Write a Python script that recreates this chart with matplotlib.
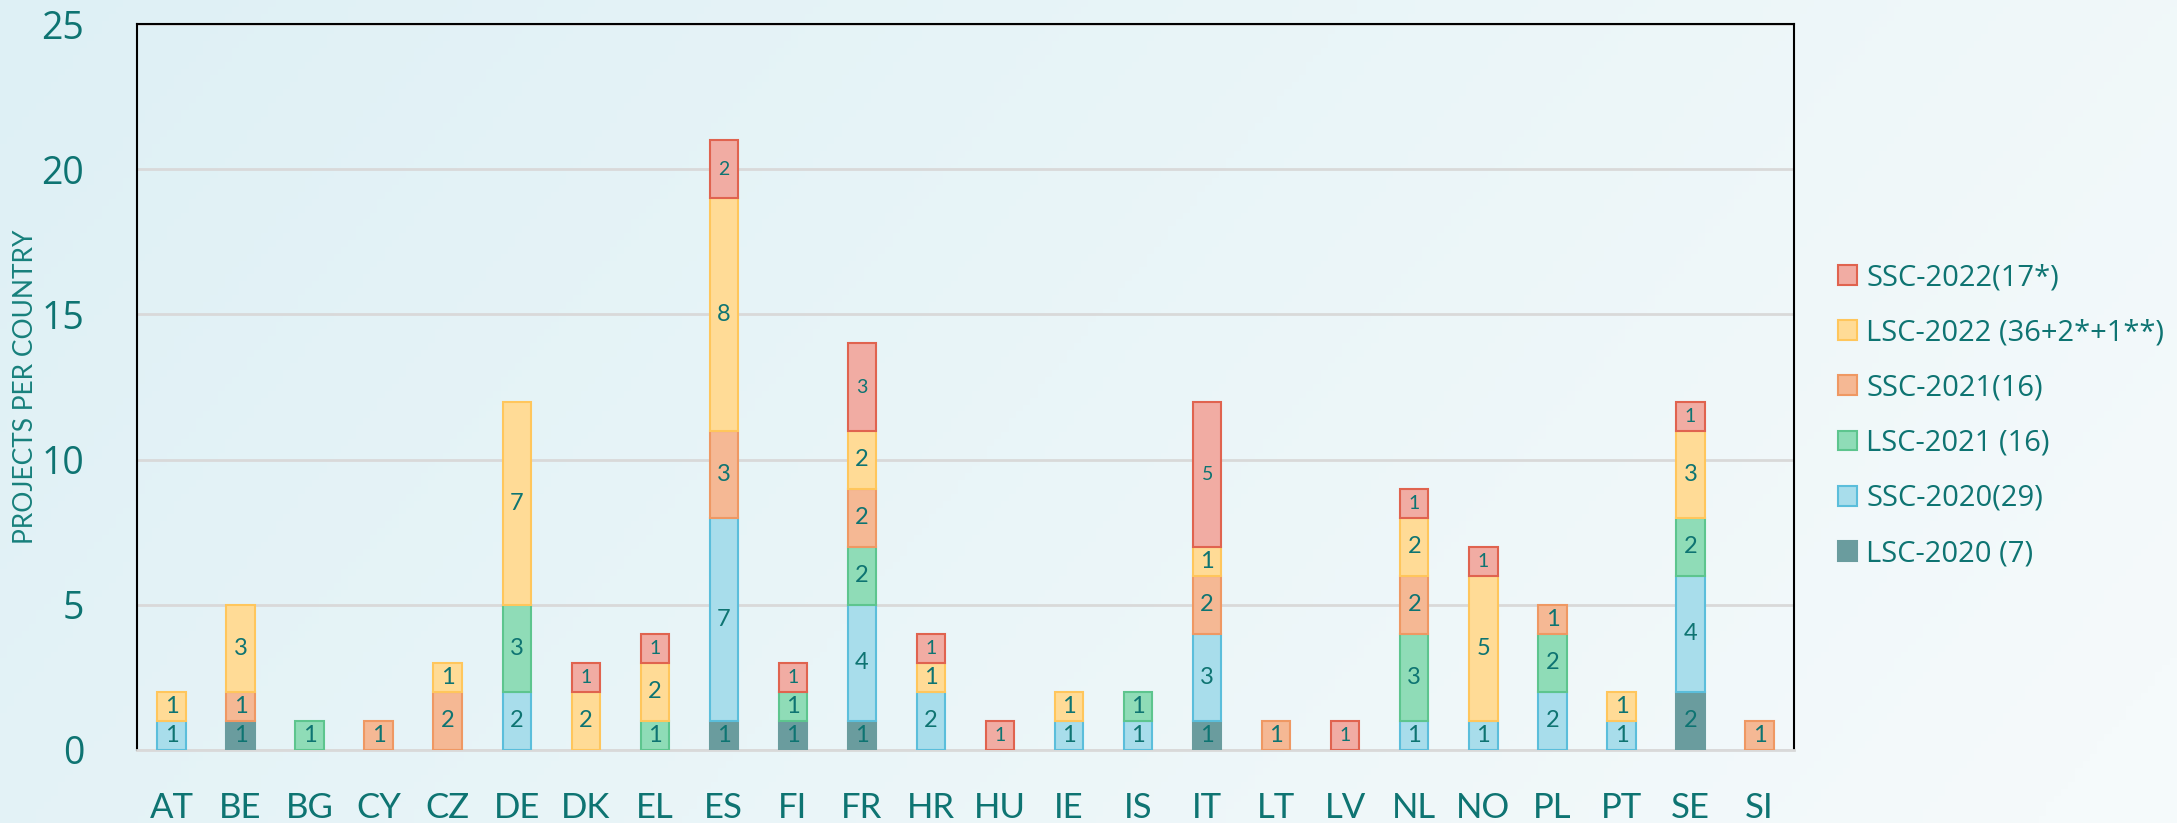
import numpy as np
import matplotlib.pyplot as plt

countries = ['AT', 'BE', 'BG', 'CY', 'CZ', 'DE', 'DK', 'EL', 'ES', 'FI', 'FR', 'HR',
             'HU', 'IE', 'IS', 'IT', 'LT', 'LV', 'NL', 'NO', 'PL', 'PT', 'SE', 'SI']

lsc_2020 = [0, 1, 0, 0, 0, 0, 0, 0, 1, 1, 1, 0, 0, 0, 0, 1, 0, 0, 0, 0, 0, 0, 2, 0]
ssc_2020 = [1, 0, 0, 0, 0, 2, 0, 0, 7, 0, 4, 2, 0, 1, 1, 3, 0, 0, 1, 1, 2, 1, 4, 0]
lsc_2021 = [0, 0, 1, 0, 0, 3, 0, 1, 0, 1, 2, 0, 0, 0, 1, 0, 0, 0, 3, 0, 2, 0, 2, 0]
ssc_2021 = [0, 1, 0, 1, 2, 0, 0, 0, 3, 0, 2, 0, 0, 0, 0, 2, 1, 0, 2, 0, 1, 0, 0, 1]
lsc_2022 = [1, 3, 0, 0, 1, 7, 2, 2, 8, 0, 2, 1, 0, 1, 0, 1, 0, 0, 2, 5, 0, 1, 3, 0]
ssc_2022 = [0, 0, 0, 0, 0, 0, 1, 1, 2, 1, 3, 1, 1, 0, 0, 5, 0, 1, 1, 1, 0, 0, 1, 0]

series_names = ['LSC-2020 (7)', 'SSC-2020(29)', 'LSC-2021 (16)', 'SSC-2021(16)',
                'LSC-2022 (36+2*+1**)', 'SSC-2022(17*)']
series = [lsc_2020, ssc_2020, lsc_2021, ssc_2021, lsc_2022, ssc_2022]
fills = ['#6A9C9E', '#A8DDEB', '#8FDCB7', '#F5B894', '#FFDB96', '#F1ACA3']
edges = ['#6A9C9E', '#5BBEDB', '#5DC58E', '#EF9863', '#FFC65C', '#E0634F']

teal = '#0E7472'

fig = plt.figure(figsize=(21.77, 8.23), dpi=100)

# soft blue -> white background
bg = fig.add_axes([0, 0, 1, 1], zorder=-10)
xx, yy = np.meshgrid(np.linspace(0, 1, 300), np.linspace(0, 1, 120))
t = np.clip(0.8 * xx + 0.25 * yy, 0, 1)
c0 = np.array([222, 240, 245]) / 255
c1 = np.array([245, 250, 251]) / 255
img = c0[None, None, :] * (1 - t[..., None]) + c1[None, None, :] * t[..., None]
bg.imshow(img, aspect='auto', extent=[0, 1, 0, 1], origin='upper')
bg.axis('off')

ax = fig.add_axes([0.0629, 0.0887, 0.7612, 0.8821])
ax.set_facecolor('none')

x = np.arange(len(countries))
bottom = np.zeros(len(countries))
handles = []
for name, vals, fc, ec in zip(series_names, series, fills, edges):
    vals = np.array(vals, dtype=float)
    m = vals > 0
    bars = ax.bar(x[m], vals[m], 0.41, bottom=bottom[m], color=fc, edgecolor=ec,
                  linewidth=1.5, label=name, zorder=3)
    handles.append(bars)
    size = 14 if name.startswith('SSC-2022') else 17
    for xi, v, b in zip(x[m], vals[m], bottom[m]):
        ax.text(xi, b + v / 2, f'{int(v)}', ha='center', va='center',
                fontsize=size, color=teal, family='Lato', zorder=4)
    bottom += vals

ax.set_xlim(-0.5, len(countries) - 0.5)
ax.set_ylim(0, 25)
ax.set_yticks([0, 5, 10, 15, 20, 25])
ax.set_xticks(x)
ax.set_xticklabels(countries, family='Lato', fontsize=25, color=teal)
ax.set_yticklabels(['0', '5', '10', '15', '20', '25'], family='Open Sans',
                   fontsize=27, color=teal)
ax.tick_params(axis='both', length=0)
ax.tick_params(axis='x', pad=30)
ax.tick_params(axis='y', pad=38)

ax.yaxis.grid(True, color='#D9D9D9', linewidth=2, zorder=0)
ax.set_axisbelow(True)

for side in ['top', 'left', 'right']:
    ax.spines[side].set_color('black')
    ax.spines[side].set_linewidth(1.5)
ax.spines['bottom'].set_color('#D9D9D9')
ax.spines['bottom'].set_linewidth(2)

ax.set_ylabel('PROJECTS PER COUNTRY', family='Lato', fontsize=19, color='#17807C')
ax.yaxis.set_label_coords(-0.06, 0.5)

ax.legend(handles[::-1], series_names[::-1], loc='upper left',
          bbox_to_anchor=(1838 / 2177, 1 - 263 / 823), bbox_transform=fig.transFigure,
          frameon=False, prop={'family': 'Open Sans', 'size': 21},
          labelcolor=teal, handlelength=0.66, handleheight=0.66,
          handletextpad=0.3, labelspacing=0.9, borderaxespad=0, borderpad=0)

fig.savefig('out.png', dpi=100)
